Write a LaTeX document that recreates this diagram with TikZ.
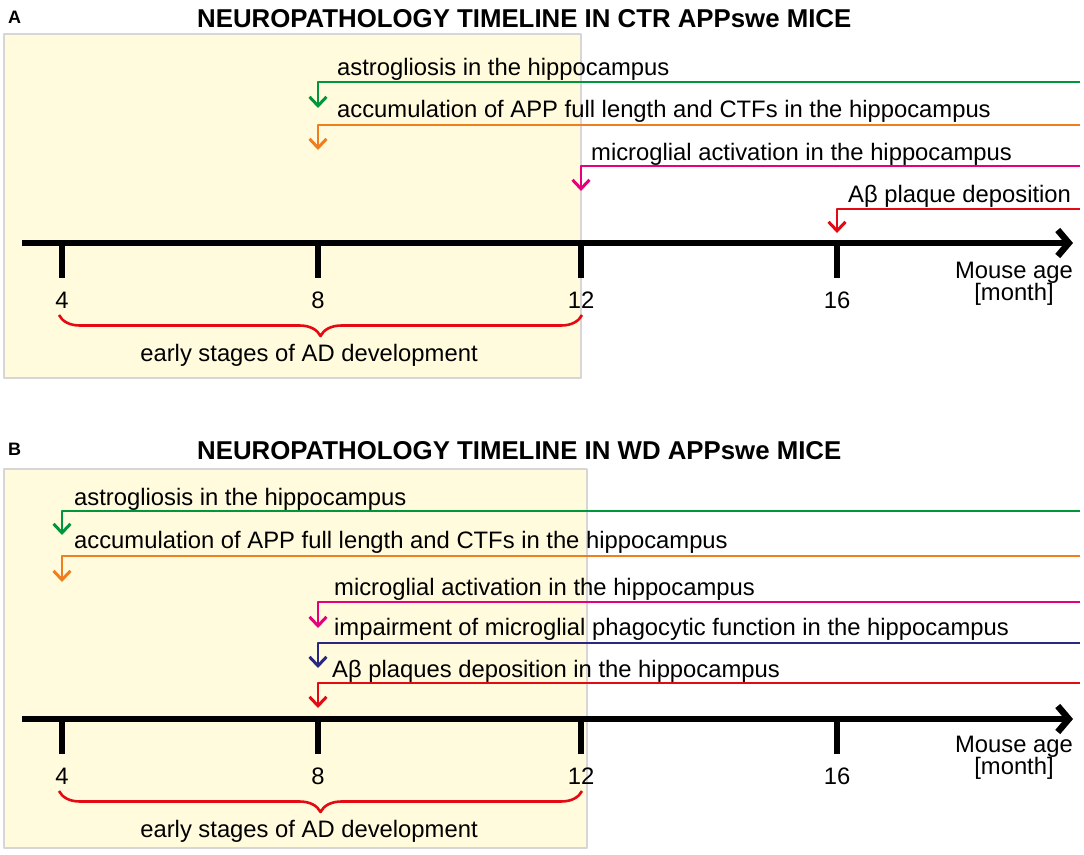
\documentclass[tikz,border=0pt]{standalone}
\usepackage{fontspec}
\setmainfont{Liberation Sans}
\usetikzlibrary{arrows.meta,decorations.pathreplacing}
\definecolor{panelfill}{RGB}{255,251,220}
\definecolor{panelrule}{RGB}{214,214,214}
\definecolor{astrocol}{RGB}{0,150,60}
\definecolor{appcol}{RGB}{240,125,30}
\definecolor{microcol}{RGB}{230,0,126}
\definecolor{phagocol}{RGB}{40,40,130}
\definecolor{plaquecol}{RGB}{228,10,20}
\begin{document}
\begin{tikzpicture}[x=1pt,y=-1pt,line join=round,
	evtext/.style={anchor=base west,inner sep=0pt,font=\fontsize{23.8}{26}\selectfont},
	ticklabel/.style={anchor=base,inner sep=0pt,font=\fontsize{23.8}{26}\selectfont},
	titletext/.style={anchor=base west,inner sep=0pt,font=\fontsize{25.8}{30}\selectfont\bfseries},
	panellabel/.style={anchor=base west,inner sep=0pt,font=\fontsize{18}{20}\selectfont\bfseries},
	onset/.style={line width=2.2pt,-{Straight Barb[length=9pt,width=17pt,line width=3pt]}},
	axisline/.style={line width=6.5pt,-{Straight Barb[length=11pt,width=26pt]}},
	tickmark/.style={line width=6pt},
	stagebrace/.style={plaquecol,line width=2.6pt,decorate,decoration={brace,amplitude=21pt}}]
	\useasboundingbox[fill=white] (0,0) rectangle (1084,854);
	%% panel A
	\fill[panelfill,draw=panelrule,line width=1.2pt] (4,34) rectangle (581,378);
	\node[panellabel] (labA) at (8,23) {A};
	\node[titletext] (titleA) at (197,27) {NEUROPATHOLOGY TIMELINE IN CTR APPswe MICE};
	\draw[axisline] (22,243) coordinate (axA0) -- (1073,243) coordinate (axA1);
	\foreach \x/\m in {62/4,318/8,581/12,837/16}{
		\draw[tickmark] (\x,243) -- (\x,278);
		\node[ticklabel] (tA\m) at (\x,308) {\m};
	}
	\node[ticklabel,align=center] (ageA) at (1014,300) {Mouse age\\[-4pt][month]};
	% onsets
	\node[evtext] (astroA) at (337,75) {astrogliosis in the hippocampus};
	\coordinate (astroAr) at (1080,82); \coordinate (astroAc) at (318,82); \coordinate (astroAt) at (318,108);
	\draw[onset,astrocol] (astroAr) -- (astroAc) -- (astroAt);
	\node[evtext] (appA) at (337,117) {accumulation of APP full length and CTFs in the hippocampus};
	\coordinate (appAr) at (1080,125); \coordinate (appAc) at (318,125); \coordinate (appAt) at (318,150);
	\draw[onset,appcol] (appAr) -- (appAc) -- (appAt);
	\node[evtext] (microA) at (591,160) {microglial activation in the hippocampus};
	\coordinate (microAr) at (1080,166); \coordinate (microAc) at (581,166); \coordinate (microAt) at (581,191);
	\draw[onset,microcol] (microAr) -- (microAc) -- (microAt);
	\node[evtext] (plaqueA) at (848,202) {Aβ plaque deposition};
	\coordinate (plaqueAr) at (1080,209); \coordinate (plaqueAc) at (837,209); \coordinate (plaqueAt) at (837,233);
	\draw[onset,plaquecol] (plaqueAr) -- (plaqueAc) -- (plaqueAt);
	% early stages
	\draw[stagebrace] (582,315) coordinate (brA1) -- (59,315) coordinate (brA0);
	\node[ticklabel] (earlyA) at (309,361) {early stages of AD development};
	%% panel B
	\fill[panelfill,draw=panelrule,line width=1.2pt] (4,469) rectangle (587,848);
	\node[panellabel] (labB) at (8,455) {B};
	\node[titletext] (titleB) at (197,459) {NEUROPATHOLOGY TIMELINE IN WD APPswe MICE};
	\draw[axisline] (22,719) coordinate (axB0) -- (1073,719) coordinate (axB1);
	\foreach \x/\m in {62/4,318/8,581/12,837/16}{
		\draw[tickmark] (\x,719) -- (\x,754);
		\node[ticklabel] (tB\m) at (\x,784) {\m};
	}
	\node[ticklabel,align=center] (ageB) at (1014,774) {Mouse age\\[-4pt][month]};
	% onsets
	\node[evtext] (astroB) at (74,505) {astrogliosis in the hippocampus};
	\coordinate (astroBr) at (1080,511); \coordinate (astroBc) at (62,511); \coordinate (astroBt) at (62,535);
	\draw[onset,astrocol] (astroBr) -- (astroBc) -- (astroBt);
	\node[evtext] (appB) at (74,548) {accumulation of APP full length and CTFs in the hippocampus};
	\coordinate (appBr) at (1080,556); \coordinate (appBc) at (62,556); \coordinate (appBt) at (62,582);
	\draw[onset,appcol] (appBr) -- (appBc) -- (appBt);
	\node[evtext] (microB) at (334,595) {microglial activation in the hippocampus};
	\coordinate (microBr) at (1080,602); \coordinate (microBc) at (318,602); \coordinate (microBt) at (318,628);
	\draw[onset,microcol] (microBr) -- (microBc) -- (microBt);
	\node[evtext] (phagoB) at (334,635) {impairment of microglial phagocytic function in the hippocampus};
	\coordinate (phagoBr) at (1080,643); \coordinate (phagoBc) at (318,643); \coordinate (phagoBt) at (318,668);
	\draw[onset,phagocol] (phagoBr) -- (phagoBc) -- (phagoBt);
	\node[evtext] (plaqueB) at (332,677) {Aβ plaques deposition in the hippocampus};
	\coordinate (plaqueBr) at (1080,683); \coordinate (plaqueBc) at (318,683); \coordinate (plaqueBt) at (318,708);
	\draw[onset,plaquecol] (plaqueBr) -- (plaqueBc) -- (plaqueBt);
	% early stages
	\draw[stagebrace] (582,791) coordinate (brB1) -- (59,791) coordinate (brB0);
	\node[ticklabel] (earlyB) at (309,837) {early stages of AD development};
\end{tikzpicture}
\end{document}
